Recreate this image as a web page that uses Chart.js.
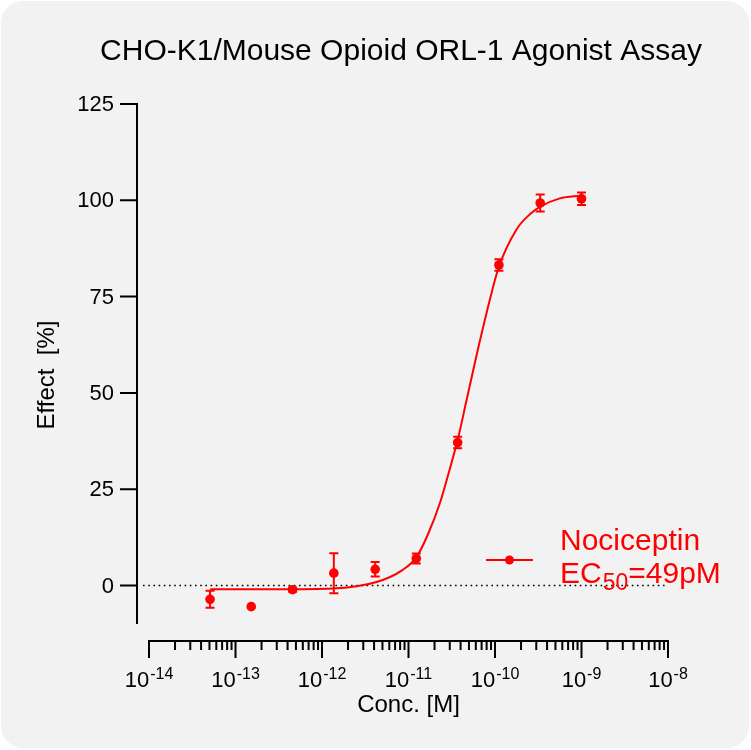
<!DOCTYPE html>
<html>
<head>
<meta charset="utf-8">
<title>ORL-1 Agonist Assay</title>
<script src="https://cdn.jsdelivr.net/npm/chart.js@4.4.0/dist/chart.umd.min.js"></script>
<style>
  html, body { margin: 0; padding: 0; background: #ffffff; }
  #box { position: relative; width: 751px; height: 750px; }
  #bg { position: absolute; left: 1px; top: 1px; width: 748px; height: 747px; background: #f2f2f2; border-radius: 22px; }
  #myChart { position: absolute; left: 0; top: 0; }
</style>
</head>
<body>
<div id="box">
  <div id="bg"></div>
  <canvas id="myChart" width="751" height="750"></canvas>
</div>
<script>
// measured points (3-fold dilution series, M) and mean effect / error
const conc = [5.08e-14, 1.52e-13, 4.57e-13, 1.37e-12, 4.12e-12, 1.23e-11, 3.70e-11, 1.11e-10, 3.33e-10, 1.0e-9];
const effect = [-3.6, -5.5, -1.1, 3.2, 4.2, 7.0, 37.1, 83.2, 99.3, 100.4];
const errBar = [2.2, 0, 0.5, 5.2, 1.9, 1.3, 1.5, 1.5, 2.2, 1.6];

// fitted curve
const curveConc = [5.1e-14, 3.16e-13, 1.32e-12, 4.27e-12, 8.5e-12, 1.23e-11, 1.68e-11, 2.34e-11, 2.88e-11, 3.72e-11, 4.68e-11, 6.3e-11, 7.94e-11, 1.1e-10, 1.78e-10, 2.57e-10, 3.31e-10, 5.62e-10, 1.0e-9];
const curveEffect = [-1.0, -1.0, -0.8, 0.9, 4.0, 7.3, 13.3, 21.8, 28.8, 38.0, 48.0, 61.0, 70.5, 82.5, 92.5, 96.5, 98.3, 100.5, 101.2];

const yTicks = [0, 25, 50, 75, 100, 125];
const xMajor = [-14, -13, -12, -11, -10, -9, -8];

const red = '#ff0000';
const fontName = '"Liberation Sans", Arial, sans-serif';

function drawSup(ctx, base, sup, cx, baseY) {
    ctx.font = '22px ' + fontName;
    const w1 = ctx.measureText(base).width;
    ctx.font = '16px ' + fontName;
    const w2 = ctx.measureText(sup).width;
    const left = cx - (w1 + w2 + 1) / 2;
    ctx.textAlign = 'left';
    ctx.font = '22px ' + fontName;
    ctx.fillText(base, left, baseY);
    ctx.font = '16px ' + fontName;
    ctx.fillText(sup, left + w1 + 1, baseY - 8);
}

const prismAxes = {
    id: 'prismAxes',
    beforeDatasetsDraw(chart) {
        const {ctx, scales: {x, y}} = chart;
        const yAxisX = x.getPixelForValue(1e-14) - 12;
        const y0 = y.getPixelForValue(0);
        ctx.save();
        ctx.setLineDash([1.6, 3.6]);
        ctx.lineWidth = 1.6;
        ctx.strokeStyle = '#000';
        ctx.beginPath();
        ctx.moveTo(yAxisX + 6, y0);
        ctx.lineTo(x.getPixelForValue(1e-8), y0);
        ctx.stroke();
        ctx.restore();
    },
    afterDatasetsDraw(chart) {
        const {ctx, scales: {x, y}} = chart;
        ctx.save();
        ctx.strokeStyle = red;
        ctx.lineWidth = 2;
        conc.forEach((c, i) => {
            if (!errBar[i]) return;
            const px = x.getPixelForValue(c);
            const top = y.getPixelForValue(effect[i] + errBar[i]);
            const bot = y.getPixelForValue(effect[i] - errBar[i]);
            ctx.beginPath();
            ctx.moveTo(px, top); ctx.lineTo(px, bot);
            ctx.moveTo(px - 4.5, top); ctx.lineTo(px + 4.5, top);
            ctx.moveTo(px - 4.5, bot); ctx.lineTo(px + 4.5, bot);
            ctx.stroke();
        });
        ctx.restore();
    },
    afterDraw(chart) {
        const {ctx, scales: {x, y}} = chart;
        const xLeft = x.getPixelForValue(1e-14);
        const xRight = x.getPixelForValue(1e-8);
        const yAxisX = xLeft - 12;
        const yTop = y.getPixelForValue(125);
        const yBot = y.getPixelForValue(-10);
        const xAxisY = yBot + 17;

        ctx.save();
        ctx.strokeStyle = '#000';
        ctx.fillStyle = '#000';
        ctx.lineWidth = 2;

        // y axis
        ctx.beginPath();
        ctx.moveTo(yAxisX, yTop - 1);
        ctx.lineTo(yAxisX, yBot);
        yTicks.forEach(v => {
            const py = y.getPixelForValue(v);
            ctx.moveTo(yAxisX - 17, py);
            ctx.lineTo(yAxisX, py);
        });
        ctx.stroke();
        ctx.font = '22px ' + fontName;
        ctx.textAlign = 'right';
        ctx.textBaseline = 'middle';
        yTicks.forEach(v => {
            ctx.fillText(String(v), yAxisX - 23, y.getPixelForValue(v) + 1);
        });

        // x axis with log minor ticks
        ctx.beginPath();
        ctx.moveTo(xLeft - 1, xAxisY);
        ctx.lineTo(xRight + 1, xAxisY);
        xMajor.forEach((e, k) => {
            const px = x.getPixelForValue(Math.pow(10, e));
            ctx.moveTo(px, xAxisY);
            ctx.lineTo(px, xAxisY + 17);
            if (k < xMajor.length - 1) {
                for (let m = 2; m <= 9; m++) {
                    const mx = x.getPixelForValue(m * Math.pow(10, e));
                    ctx.moveTo(mx, xAxisY);
                    ctx.lineTo(mx, xAxisY + 9);
                }
            }
        });
        ctx.stroke();
        ctx.textBaseline = 'alphabetic';
        xMajor.forEach(e => {
            drawSup(ctx, '10', String(e), x.getPixelForValue(Math.pow(10, e)), xAxisY + 46);
        });

        // axis titles
        ctx.font = '24px ' + fontName;
        ctx.textAlign = 'center';
        ctx.fillText('Conc. [M]', (xLeft + xRight) / 2, xAxisY + 71);
        ctx.save();
        ctx.translate(54, 375);
        ctx.rotate(-Math.PI / 2);
        ctx.fillText('Effect  [%]', 0, 0);
        ctx.restore();

        // title
        ctx.font = '30px ' + fontName;
        ctx.fillText('CHO-K1/Mouse Opioid ORL-1 Agonist Assay', 401, 60);

        // legend
        ctx.strokeStyle = red;
        ctx.fillStyle = red;
        ctx.beginPath();
        ctx.moveTo(486, 560);
        ctx.lineTo(533, 560);
        ctx.stroke();
        ctx.beginPath();
        ctx.arc(509.5, 560, 4.5, 0, Math.PI * 2);
        ctx.fill();
        ctx.textAlign = 'left';
        ctx.font = '30px ' + fontName;
        ctx.fillText('Nociceptin', 560, 550);
        ctx.fillText('EC', 560, 583);
        const wEC = ctx.measureText('EC').width;
        ctx.font = '23px ' + fontName;
        ctx.fillText('50', 561 + wEC, 590);
        const w50 = ctx.measureText('50').width;
        ctx.font = '30px ' + fontName;
        ctx.fillText('=49pM', 561 + wEC + w50, 583);
        ctx.restore();
    }
};

const ctx = document.getElementById('myChart').getContext('2d');
const myChart = new Chart(ctx, {
    type: 'scatter',
    data: {
        datasets: [{
            label: 'fit',
            type: 'line',
            data: curveConc.map((c, i) => ({x: c, y: curveEffect[i]})),
            borderColor: red,
            borderWidth: 2,
            pointRadius: 0,
            cubicInterpolationMode: 'monotone',
            fill: false
        }, {
            label: 'Nociceptin',
            data: conc.map((c, i) => ({x: c, y: effect[i]})),
            backgroundColor: red,
            borderColor: red,
            pointRadius: 4.8,
            borderWidth: 0
        }]
    },
    options: {
        responsive: false,
        animation: false,
        devicePixelRatio: 1,
        layout: {padding: {left: 149, right: 83, top: 104, bottom: 126}},
        plugins: {legend: {display: false}, tooltip: {enabled: false}, title: {display: false}},
        scales: {
            x: {type: 'logarithmic', min: 1e-14, max: 1e-8, display: false},
            y: {type: 'linear', min: -10, max: 125, display: false}
        }
    },
    plugins: [prismAxes]
});
</script>
</body>
</html>
